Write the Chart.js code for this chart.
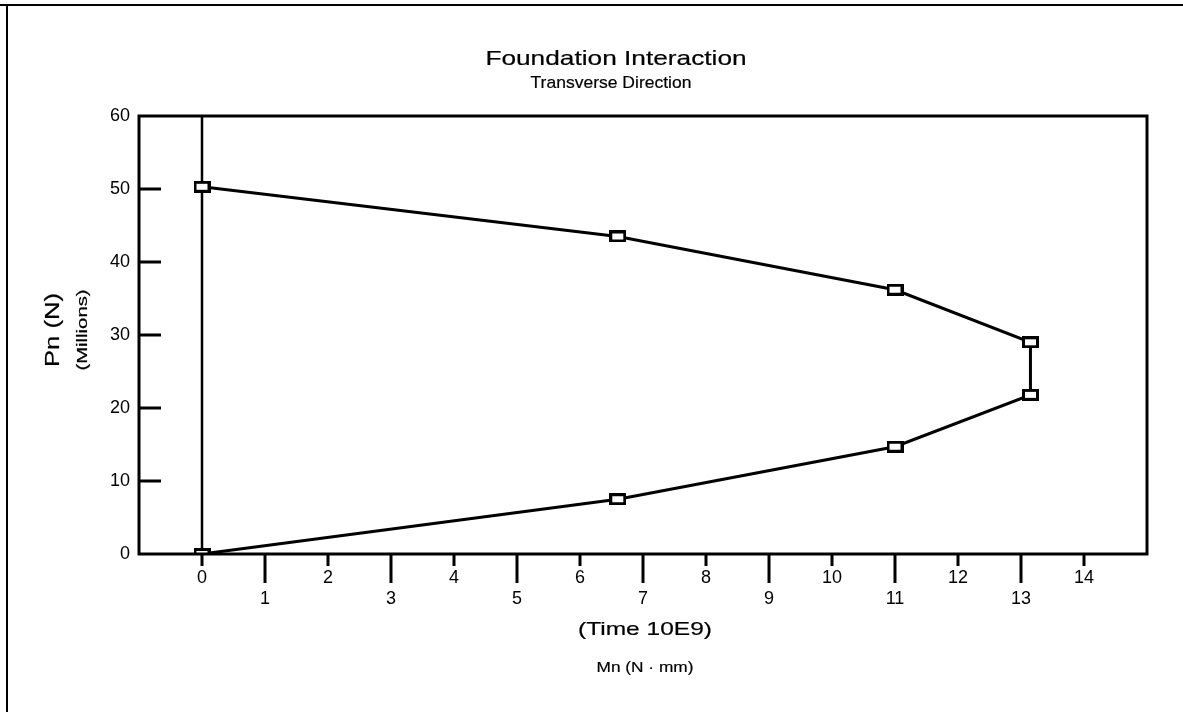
<!DOCTYPE html>
<html>
<head>
<meta charset="utf-8">
<title>Foundation Interaction</title>
<script src="https://cdn.jsdelivr.net/npm/chart.js@4.4.1/dist/chart.umd.min.js"></script>
<style>
  html, body { margin: 0; padding: 0; background: #fff; }
  canvas { display: block; }
</style>
</head>
<body>
<canvas id="chart" width="1183" height="712"></canvas>
<script>
// Interaction curve: moment Mn (x 10E9 N·mm) against axial load Pn (millions of N)
const momentMn = [0, 6.6, 11, 13.15, 13.15, 11, 6.6, 0];
const axialPn  = [0, 7.5, 14.7, 21.8, 29.0, 36.2, 43.5, 50.3];

// Zero-moment reference line
const refMn = [0, 0];
const refPn = [0, 60];

// Tick values
const xTickValues = [0, 1, 2, 3, 4, 5, 6, 7, 8, 9, 10, 11, 12, 13, 14];
const yTickValues = [0, 10, 20, 30, 40, 50, 60];

const FONT = '"Liberation Sans", Arial, Helvetica, sans-serif';

// Open square marker, slightly wider than tall
function makeMarker() {
  const c = document.createElement('canvas');
  c.width = 17; c.height = 12;
  const g = c.getContext('2d');
  g.fillStyle = '#fff';
  g.fillRect(0, 0, 17, 12);
  g.strokeStyle = '#000';
  g.lineWidth = 3;
  g.strokeRect(1.5, 1.5, 14, 9);
  return c;
}
const marker = makeMarker();

function toPoints(xs, ys) {
  return xs.map((x, i) => ({ x: x, y: ys[i] }));
}

function drawStretched(ctx, text, x, y, size, sx, rotate) {
  ctx.save();
  ctx.translate(x, y);
  if (rotate) ctx.rotate(-Math.PI / 2);
  ctx.scale(sx, 1);
  ctx.font = size + 'px ' + FONT;
  ctx.fillStyle = '#000';
  ctx.strokeStyle = '#000';
  ctx.lineWidth = 0.2;
  ctx.textAlign = 'center';
  ctx.textBaseline = 'alphabetic';
  ctx.fillText(text, 0, 0);
  ctx.strokeText(text, 0, 0);
  ctx.restore();
}

const decorations = {
  id: 'decorations',
  afterDraw(chart) {
    const ctx = chart.ctx;
    const area = chart.chartArea;
    const xs = chart.scales.x;
    const ys = chart.scales.y;
    ctx.save();
    ctx.fillStyle = '#000';

    // page frame (top and left rules)
    ctx.fillRect(0, 4, chart.width, 2);
    ctx.fillRect(6, 4, 2, chart.height - 4);

    // plot box
    ctx.strokeStyle = '#000';
    ctx.lineWidth = 3;
    ctx.strokeRect(area.left, area.top, area.right - area.left, area.bottom - area.top);

    // x tick marks: short for even, long for odd values
    xTickValues.forEach(v => {
      const px = xs.getPixelForValue(v);
      const len = (v % 2) ? 29 : 12;
      ctx.fillRect(px - 1.5, area.bottom, 3, len);
    });

    // y tick marks drawn inward from the left edge
    yTickValues.forEach(v => {
      if (v === ys.min || v === ys.max) return;
      const py = ys.getPixelForValue(v);
      ctx.fillRect(area.left, py - 1.5, 22, 3);
    });

    // titles
    drawStretched(ctx, 'Foundation Interaction', 616, 65, 21, 1.25, false);
    drawStretched(ctx, 'Transverse Direction', 611, 88, 17, 1.03, false);
    drawStretched(ctx, '(Time 10E9)', 645, 635, 19, 1.29, false);
    drawStretched(ctx, 'Mn (N \u00B7 mm)', 645, 672, 15, 1.15, false);
    drawStretched(ctx, 'Pn (N)', 59, 330, 20, 1.28, true);
    drawStretched(ctx, '(Millions)', 87, 330, 14.5, 1.4, true);

    ctx.restore();
  }
};

new Chart(document.getElementById('chart'), {
  type: 'scatter',
  data: {
    datasets: [
      {
        label: 'Pn vs Mn',
        data: toPoints(momentMn, axialPn),
        showLine: true,
        borderColor: '#000',
        borderWidth: 3,
        pointStyle: marker,
        pointRadius: 6,
        pointHoverRadius: 6,
        tension: 0
      },
      {
        label: 'Mn = 0',
        data: toPoints(refMn, refPn),
        showLine: true,
        borderColor: '#000',
        borderWidth: 2.5,
        pointRadius: 0,
        pointHoverRadius: 0
      }
    ]
  },
  options: {
    responsive: false,
    animation: false,
    devicePixelRatio: 1,
    layout: { padding: { top: 116, left: 0, right: 36, bottom: 0 } },
    plugins: {
      legend: { display: false },
      tooltip: { enabled: false },
      title: { display: false }
    },
    scales: {
      x: {
        type: 'linear',
        min: -1,
        max: 15,
        afterBuildTicks: s => { s.ticks = xTickValues.map(v => ({ value: v })); },
        afterFit: s => { s.height = 712 - 554; },
        grid: { display: false, drawTicks: false },
        border: { display: false },
        ticks: {
          autoSkip: false,
          maxRotation: 0,
          padding: 14,
          color: '#000',
          font: { family: FONT, size: 18, lineHeight: 1.15 },
          callback: v => (v % 2) ? ['', String(v)] : String(v)
        }
      },
      y: {
        type: 'linear',
        min: 0,
        max: 60,
        afterBuildTicks: s => { s.ticks = yTickValues.map(v => ({ value: v })); },
        afterFit: s => { s.width = 139; },
        grid: { display: false, drawTicks: false },
        border: { display: false },
        ticks: {
          padding: 9,
          color: '#000',
          font: { family: FONT, size: 18 },
          callback: v => String(v)
        }
      }
    }
  },
  plugins: [decorations]
});
</script>
</body>
</html>
